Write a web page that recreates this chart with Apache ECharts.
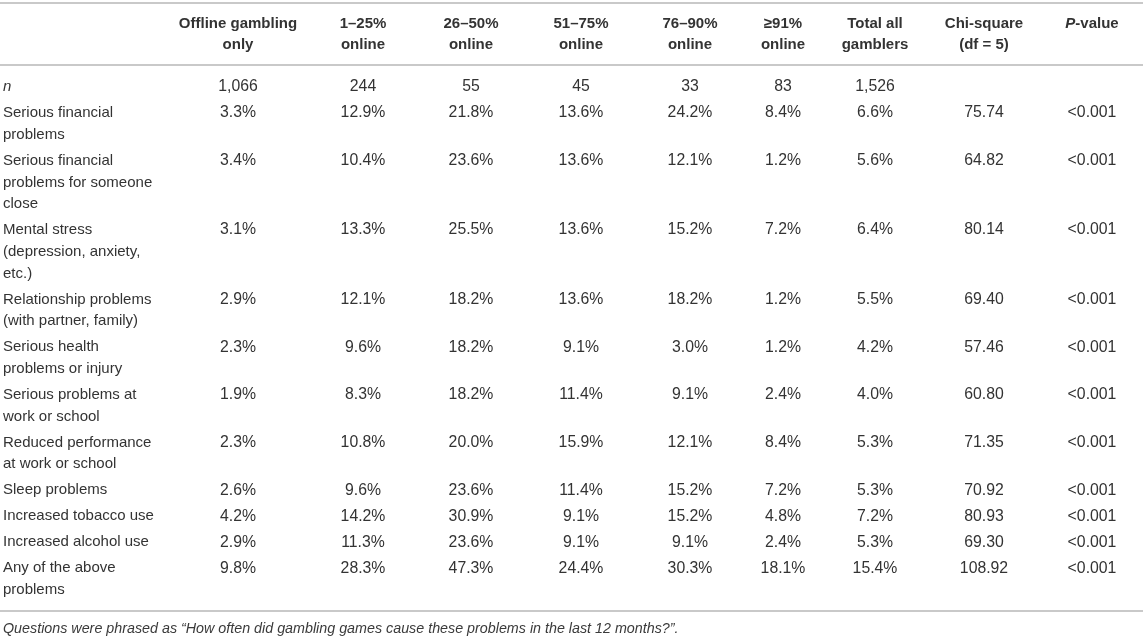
<!DOCTYPE html>
<html>
<head>
<meta charset="utf-8">
<title>Gambling problems by share of online gambling</title>
<script src="https://cdn.jsdelivr.net/npm/echarts@6/dist/echarts.min.js"></script>
<style>
  html, body { margin: 0; padding: 0; background: #fff; }
  #table { width: 1143px; height: 639px; }
</style>
</head>
<body>
<div id="table"></div>
<script>
  var headers = [
    'Offline gambling\nonly', '1–25%\nonline', '26–50%\nonline', '51–75%\nonline',
    '76–90%\nonline', '≥91%\nonline', 'Total all\ngamblers', 'Chi-square\n(df = 5)', 'P-value'
  ];
  var problems = [
    'Serious financial\nproblems',
    'Serious financial\nproblems for someone\nclose',
    'Mental stress\n(depression, anxiety,\netc.)',
    'Relationship problems\n(with partner, family)',
    'Serious health\nproblems or injury',
    'Serious problems at\nwork or school',
    'Reduced performance\nat work or school',
    'Sleep problems',
    'Increased tobacco use',
    'Increased alcohol use',
    'Any of the above\nproblems'
  ];
  var nCounts   = [1066, 244, 55, 45, 33, 83, 1526];
  var offline   = [3.3, 3.4, 3.1, 2.9, 2.3, 1.9, 2.3, 2.6, 4.2, 2.9, 9.8];
  var online1   = [12.9, 10.4, 13.3, 12.1, 9.6, 8.3, 10.8, 9.6, 14.2, 11.3, 28.3];
  var online26  = [21.8, 23.6, 25.5, 18.2, 18.2, 18.2, 20.0, 23.6, 30.9, 23.6, 47.3];
  var online51  = [13.6, 13.6, 13.6, 13.6, 9.1, 11.4, 15.9, 11.4, 9.1, 9.1, 24.4];
  var online76  = [24.2, 12.1, 15.2, 18.2, 3.0, 9.1, 12.1, 15.2, 15.2, 9.1, 30.3];
  var online91  = [8.4, 1.2, 7.2, 1.2, 1.2, 2.4, 8.4, 7.2, 4.8, 2.4, 18.1];
  var totalAll  = [6.6, 5.6, 6.4, 5.5, 4.2, 4.0, 5.3, 5.3, 7.2, 5.3, 15.4];
  var chiSquare = [75.74, 64.82, 80.14, 69.40, 57.46, 60.80, 71.35, 70.92, 80.93, 69.30, 108.92];
  var pValues   = ['<0.001', '<0.001', '<0.001', '<0.001', '<0.001', '<0.001',
                   '<0.001', '<0.001', '<0.001', '<0.001', '<0.001'];
  var footnote = 'Questions were phrased as “How often did gambling games cause these problems in the last 12 months?”.';

  // ---- layout ----
  var FONT = '"Liberation Sans", Arial, sans-serif';
  var TEXT = '#333';
  var LH = 21.7;                 // line height inside a cell
  var labelX = 3;
  var colX = [238, 363, 471, 581, 690, 783, 875, 984, 1092];
  var headerY = 23.5, firstRowY = 87, footY = 629;
  var rules = [3, 65, 611];
  var labelFont = '15px ' + FONT;
  var numFont = '15.8px ' + FONT;
  var headFont = 'bold 15px ' + FONT;

  function lines(s) { return s.split('\n').length; }
  function pct(v) { return v.toFixed(1) + '%'; }

  // y of the first text line of each body row
  var rowY = [firstRowY];
  var prevLines = 1;
  problems.forEach(function (p, i) {
    rowY.push(rowY[i] + 26 + LH * (prevLines - 1));
    prevLines = lines(p);
  });

  var cells = [];
  function cell(x, y, text, opts) {
    opts = opts || {};
    cells.push({
      value: [x, y],
      text: text,
      align: opts.align || 'center',
      font: opts.font || numFont,
      fill: opts.fill || TEXT,
      lh: opts.lh || LH,
      rich: opts.rich
    });
  }

  headers.forEach(function (h, c) {
    if (h === 'P-value') {
      cell(colX[c], headerY, '{i|P}{b|-value}', {
        lh: 21,
        rich: {
          i: { font: 'italic ' + headFont, fill: TEXT },
          b: { font: headFont, fill: TEXT }
        }
      });
    } else {
      cell(colX[c], headerY, h, { font: headFont, lh: 21 });
    }
  });

  cell(labelX, rowY[0], 'n', { align: 'left', font: 'italic ' + labelFont });
  nCounts.forEach(function (v, c) {
    cell(colX[c], rowY[0], v.toLocaleString('en-US'));
  });

  var pctCols = [offline, online1, online26, online51, online76, online91, totalAll];
  problems.forEach(function (p, r) {
    var y = rowY[r + 1];
    cell(labelX, y, p, { align: 'left', font: labelFont });
    pctCols.forEach(function (arr, c) { cell(colX[c], y, pct(arr[r])); });
    cell(colX[7], y, chiSquare[r].toFixed(2));
    cell(colX[8], y, pValues[r]);
  });

  cell(labelX, footY, footnote, { align: 'left', font: 'italic 14.3px ' + FONT, fill: '#3a3a3a' });

  var chart = echarts.init(document.getElementById('table'), null, { renderer: 'canvas' });
  chart.setOption({
    animation: false,
    backgroundColor: '#fff',
    grid: { left: 0, right: 0, top: 0, bottom: 0 },
    xAxis: { type: 'value', min: 0, max: 1143, show: false },
    yAxis: { type: 'value', min: 0, max: 639, inverse: true, show: false },
    series: [
      {
        type: 'custom',
        silent: true,
        data: rules.map(function (y) { return [0, y]; }),
        renderItem: function (params, api) {
          var a = api.coord([0, api.value(1)]);
          var b = api.coord([1143, api.value(1)]);
          return {
            type: 'line',
            shape: { x1: a[0], y1: a[1], x2: b[0], y2: b[1] },
            style: { stroke: '#c9c9c9', lineWidth: 2 }
          };
        }
      },
      {
        type: 'custom',
        silent: true,
        data: cells.map(function (d) { return d.value; }),
        renderItem: function (params, api) {
          var d = cells[params.dataIndex];
          var p = api.coord([api.value(0), api.value(1)]);
          var style = {
            text: d.text,
            align: d.align,
            verticalAlign: 'top',
            font: d.font,
            fill: d.fill,
            lineHeight: d.lh
          };
          if (d.rich) style.rich = d.rich;
          return { type: 'text', x: p[0], y: p[1] - d.lh / 2, style: style };
        }
      }
    ]
  });
  window.addEventListener('resize', function () { chart.resize(); });
</script>
</body>
</html>
